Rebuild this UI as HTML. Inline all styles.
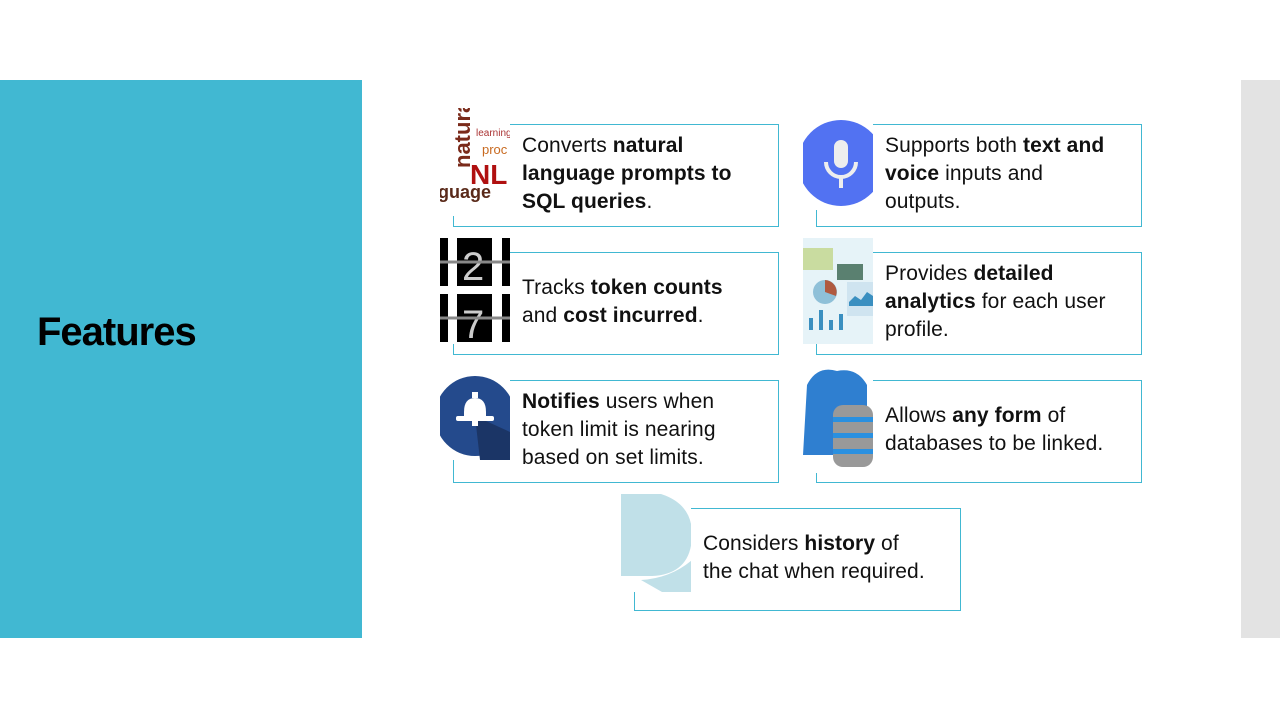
<!DOCTYPE html>
<html><head><meta charset="utf-8"><style>
body{margin:0;width:1280px;height:720px;position:relative;background:#fff;overflow:hidden;font-family:"Liberation Sans",sans-serif;}
.a{position:absolute;}
.box{position:absolute;border:1px solid #41B8D2;box-sizing:border-box;background:#fff;}
.t{position:absolute;font-size:21px;line-height:28px;color:#111;letter-spacing:0.1px;white-space:nowrap;}
.ic{position:absolute;width:70px;background:#fff;overflow:hidden;}
</style></head><body>
<div class="a" style="left:0;top:80px;width:362px;height:558px;background:#41B8D2"></div>
<div class="a" style="left:1241px;top:80px;width:39px;height:558px;background:#E3E3E3"></div>
<div class="a" style="left:37px;top:307px;font-size:40px;font-weight:bold;letter-spacing:-1px;color:#000;line-height:50px">Features</div>

<div class="box" style="left:453px;top:124px;width:326px;height:103px"></div>
<div class="box" style="left:453px;top:252px;width:326px;height:103px"></div>
<div class="box" style="left:453px;top:380px;width:326px;height:103px"></div>
<div class="box" style="left:816px;top:124px;width:326px;height:103px"></div>
<div class="box" style="left:816px;top:252px;width:326px;height:103px"></div>
<div class="box" style="left:816px;top:380px;width:326px;height:103px"></div>
<div class="box" style="left:634px;top:508px;width:327px;height:103px"></div>

<div class="ic" style="left:440px;top:108px;height:108px">
<svg width="70" height="108"><rect width="70" height="108" fill="#fff"/>
<text x="30" y="60" transform="rotate(-90 30 60)" font-size="22" font-weight="bold" fill="#7a2a1a">natural</text>
<text x="36" y="28" font-size="10" fill="#a33">learning</text>
<text x="42" y="46" font-size="13" fill="#c86a20">proc</text>
<text x="30" y="76" font-size="28" font-weight="bold" fill="#b01010">NL</text>
<text x="-2" y="90" font-size="18" font-weight="bold" fill="#5a2a1a">guage</text>
</svg></div>
<div class="ic" style="left:803px;top:120px;height:90px">
<svg width="70" height="90"><circle cx="38" cy="43" r="43" fill="#5272F2"/>
<rect x="31" y="20" width="14" height="28" rx="7" fill="#eee"/>
<path d="M23 42 a15 15 0 0 0 30 0" fill="none" stroke="#eee" stroke-width="4"/>
<rect x="36" y="56" width="4" height="12" fill="#eee"/></svg></div>

<div class="ic" style="left:440px;top:238px;height:106px">
<svg width="70" height="106"><rect width="70" height="106" fill="#fff"/>
<rect x="0" y="0" width="8" height="48" fill="#000"/><rect x="17" y="0" width="35" height="48" fill="#000"/><rect x="62" y="0" width="8" height="48" fill="#000"/>
<rect x="0" y="56" width="8" height="48" fill="#000"/><rect x="17" y="56" width="35" height="48" fill="#000"/><rect x="62" y="56" width="8" height="48" fill="#000"/>
<text x="22" y="42" font-size="40" fill="#ccc">2</text><text x="22" y="100" font-size="40" fill="#ccc">7</text>
<line x1="0" y1="24" x2="70" y2="24" stroke="#888" stroke-width="3"/><line x1="0" y1="80" x2="70" y2="80" stroke="#888" stroke-width="3"/></svg></div>
<div class="ic" style="left:803px;top:238px;height:106px;background:#e6f3f8">
<svg width="70" height="106"><rect x="0" y="10" width="30" height="22" fill="#c9dca0"/><rect x="34" y="26" width="26" height="16" fill="#5a8070"/>
<circle cx="22" cy="54" r="12" fill="#8fc0d8"/><path d="M22 54 L22 42 A12 12 0 0 1 33 58Z" fill="#b05a40"/>
<rect x="44" y="44" width="26" height="34" fill="#cfe4f0"/><path d="M46 64 l6-6 6 4 6-8 6 4 v10h-24z" fill="#3a8fc0"/>
<rect x="6" y="80" width="4" height="12" fill="#3a8fc0"/><rect x="16" y="72" width="4" height="20" fill="#3a8fc0"/><rect x="26" y="82" width="4" height="10" fill="#3a8fc0"/><rect x="36" y="76" width="4" height="16" fill="#3a8fc0"/></svg></div>

<div class="ic" style="left:440px;top:372px;height:88px">
<svg width="70" height="88"><circle cx="35" cy="44" r="40" fill="#244a8c"/>
<path d="M35 44 L70 60 L70 88 L40 88Z" fill="#1b3566"/>
<rect x="32" y="20" width="6" height="6" fill="#fff"/><path d="M24 40 q0-14 11-14 q11 0 11 14 v6 h-22z" fill="#fff"/><rect x="16" y="44" width="38" height="5" rx="2" fill="#fff"/><rect x="32" y="48" width="6" height="6" fill="#fff"/></svg></div>
<div class="ic" style="left:803px;top:365px;height:108px">
<svg width="70" height="108"><path d="M4 20 q10-20 30-14 q20-4 30 14 v70 h-64z" fill="#2f7fd0"/>
<rect x="30" y="40" width="40" height="62" rx="10" fill="#999"/>
<rect x="30" y="52" width="40" height="5" fill="#2a90e0"/><rect x="30" y="68" width="40" height="5" fill="#2a90e0"/><rect x="30" y="84" width="40" height="5" fill="#2a90e0"/></svg></div>

<div class="ic" style="left:621px;top:494px;height:98px">
<svg width="71" height="98"><path d="M0 0 h40 q31 10 31 40 q0 40-40 42 h-31z" fill="#c0e0e8"/><path d="M20 86 q30-2 51-20 v32 h-30z" fill="#c0e0e8"/></svg></div>

<div class="t" style="left:522px;top:132px">Converts <b>natural</b><br><b>language prompts to</b><br><b>SQL queries</b>.</div>
<div class="t" style="left:522px;top:274px">Tracks <b>token counts</b><br>and <b>cost incurred</b>.</div>
<div class="t" style="left:522px;top:388px"><b>Notifies</b> users when<br>token limit is nearing<br>based on set limits.</div>
<div class="t" style="left:885px;top:132px">Supports both <b>text and</b><br><b>voice</b> inputs and<br>outputs.</div>
<div class="t" style="left:885px;top:260px">Provides <b>detailed</b><br><b>analytics</b> for each user<br>profile.</div>
<div class="t" style="left:885px;top:402px">Allows <b>any form</b> of<br>databases to be linked.</div>
<div class="t" style="left:703px;top:530px">Considers <b>history</b> of<br>the chat when required.</div>
</body></html>
